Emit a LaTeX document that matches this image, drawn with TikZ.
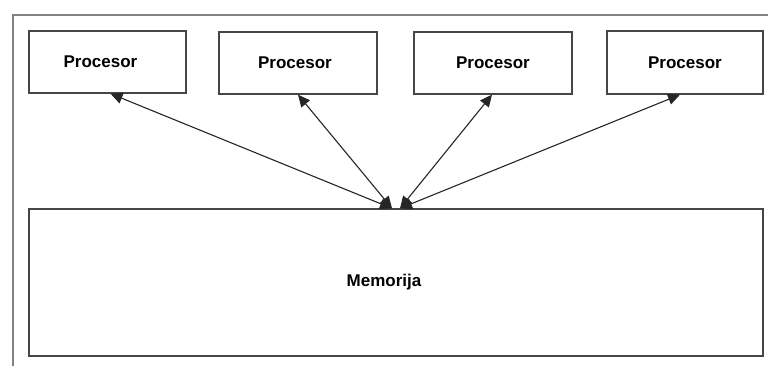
\documentclass[tikz,border=0pt]{standalone}
\usepackage{fontspec}
\setmainfont{Liberation Sans}
\usetikzlibrary{arrows.meta}
\definecolor{boxline}{RGB}{70,70,70}
\definecolor{frameline}{RGB}{130,130,130}
\begin{document}
\begin{tikzpicture}[x=1pt,y=-1pt,
  box/.style={draw=boxline,line width=1.3pt,fill=white,inner sep=0pt,font=\fontsize{17}{20}\selectfont\bfseries},
  arr/.style={draw=black!85,line width=1.1pt,{Triangle[length=12pt,width=11pt]}-{Triangle[length=12pt,width=11pt]}}]
\useasboundingbox (0,0) rectangle (768,365);
\fill[white] (0,0) rectangle (768,365);
\draw[frameline,line width=2pt] (13,366) -- (13,15) -- (769,15);
\node[box,minimum width=157pt,minimum height=62pt] (p1) at (107.5,62) {\hspace*{-14pt}Procesor};
\node[box,minimum width=158pt,minimum height=62pt] (p2) at (298,63) {\hspace*{-6pt}Procesor};
\node[box,minimum width=158pt,minimum height=62pt] (p3) at (493,63) {Procesor};
\node[box,minimum width=156pt,minimum height=63pt] (p4) at (685,62.5) {Procesor};
\node[box,minimum width=734pt,minimum height=147pt] (mem) at (396,282.5) {\hspace*{-24pt}Memorija};
\draw[arr] ([xshift=-4pt]mem.north) -- ([xshift=3pt]p1.south);
\draw[arr] ([xshift=-4pt]mem.north) -- ([xshift=0pt]p2.south);
\draw[arr] ([xshift=4pt]mem.north) -- ([xshift=-1pt]p3.south);
\draw[arr] ([xshift=4pt]mem.north) -- ([xshift=-5pt]p4.south);
\end{tikzpicture}
\end{document}
